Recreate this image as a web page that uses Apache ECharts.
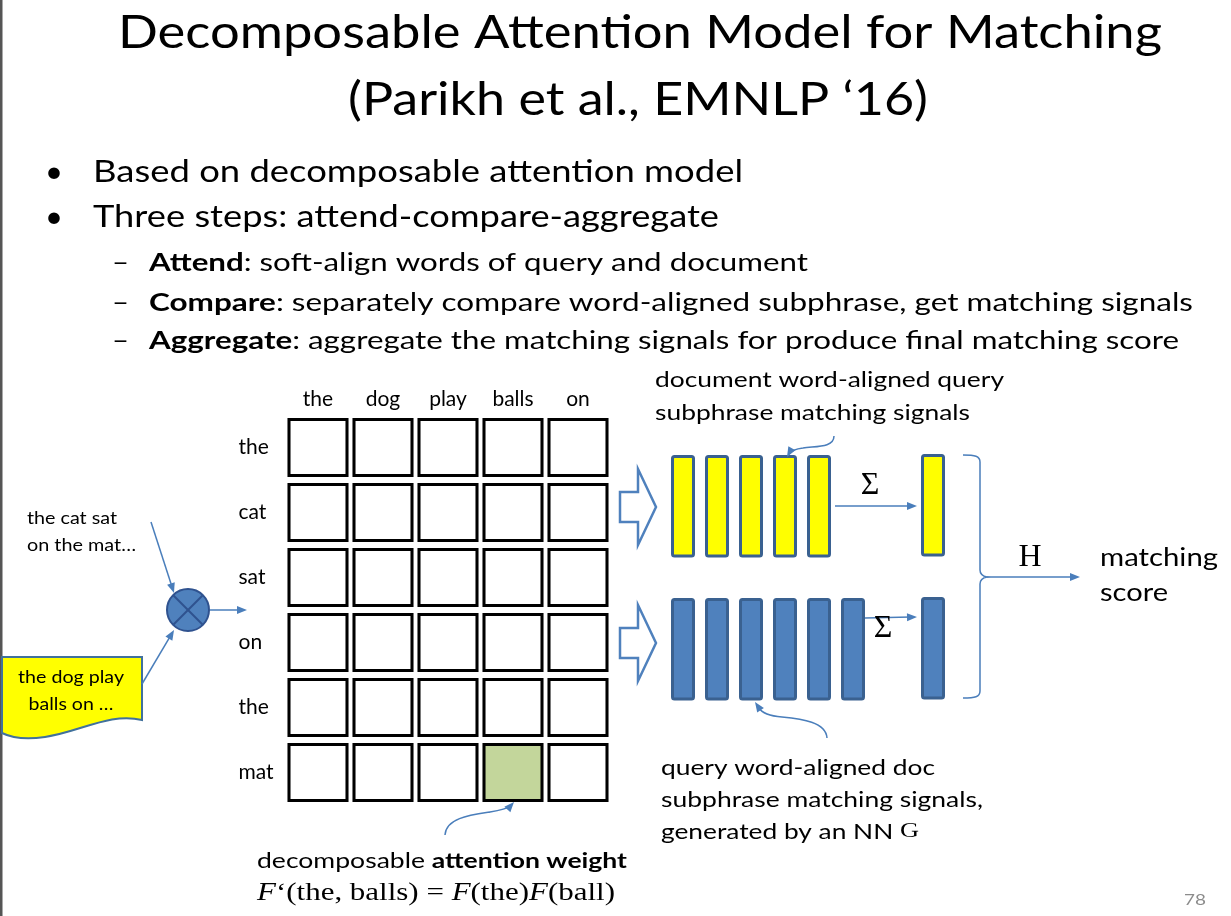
<!DOCTYPE html>
<html>
<head>
<meta charset="utf-8">
<script src="https://cdn.jsdelivr.net/npm/echarts@6/dist/echarts.min.js"></script>
<style>html,body{margin:0;padding:0;background:#fff;}#c{width:1231px;height:916px;}</style>
</head>
<body>
<div id="c"></div>
<script>
// ---------- data ----------
const docWords = ['the', 'dog', 'play', 'balls', 'on'];
const queryWords = ['the', 'cat', 'sat', 'on', 'the', 'mat'];
// attention weight highlight per [query row][doc column] (1 = highlighted cell)
const attention = [
  [0, 0, 0, 0, 0],
  [0, 0, 0, 0, 0],
  [0, 0, 0, 0, 0],
  [0, 0, 0, 0, 0],
  [0, 0, 0, 0, 0],
  [0, 0, 0, 1, 0]
];
const docAlignedSignals = [1, 1, 1, 1, 1];
const queryAlignedSignals = [1, 1, 1, 1, 1, 1];
const docSum = [1];
const querySum = [1];

// ---------- helpers ----------
const FAM = 'Lato';
const SERIF = 'Liberation Serif';
const mctx = document.createElement('canvas').getContext('2d');
function mw(t, st) {
  mctx.font = (st.fontStyle || 'normal') + ' ' + (st.fontWeight || 'normal') + ' ' + st.fontSize + 'px ' + st.fontFamily;
  return mctx.measureText(t).width;
}
function txt(segs, x, base, size, target, o) {
  o = o || {};
  const styles = {
    n: { fontFamily: FAM, fontSize: size, fontWeight: 'normal', fill: o.fill || '#000' },
    b: { fontFamily: FAM, fontSize: size, fontWeight: 'bold', fill: o.fill || '#000' },
    s: { fontFamily: SERIF, fontSize: size, fontWeight: 'normal', fill: o.fill || '#000' },
    i: { fontFamily: SERIF, fontSize: size, fontWeight: 'normal', fontStyle: 'italic', fill: o.fill || '#000' }
  };
  let w = 0, str = '';
  segs.forEach(function (sg) {
    w += mw(sg[0], styles[sg[1]]);
    str += '{' + sg[1] + '|' + sg[0] + '}';
  });
  const sx = target ? target / w : 1;
  const al = o.align || 'left';
  return {
    type: 'text', x: x, y: base - 0.387 * size, scaleX: sx, silent: true, z: 10,
    style: {
      text: str, rich: styles, fontFamily: FAM, fontSize: size, fill: o.fill || '#000',
      align: al, textAlign: al, verticalAlign: 'middle', textVerticalAlign: 'middle'
    }
  };
}
const BLUE = '#4a7ebb';
let pathCount = 0;
function pathEl(d, style, z) {
  const name = 'pth' + (pathCount++);
  echarts.graphic.registerShape(name, echarts.graphic.extendPath(d, {}));
  return { type: name, silent: true, z: z || 5, shape: {}, style: style };
}
function arrowHead(x1, y1, x2, y2, len, wid) {
  len = len || 10; wid = wid || 4;
  const a = Math.atan2(y2 - y1, x2 - x1);
  const bx = x2 - len * Math.cos(a), by = y2 - len * Math.sin(a);
  const px = -Math.sin(a) * wid, py = Math.cos(a) * wid;
  return { type: 'polygon', silent: true, z: 6, shape: { points: [[x2, y2], [bx + px, by + py], [bx - px, by - py]] }, style: { fill: BLUE } };
}
function arrow(x1, y1, x2, y2) {
  const a = Math.atan2(y2 - y1, x2 - x1);
  return [
    { type: 'line', silent: true, z: 5, shape: { x1: x1, y1: y1, x2: x2 - 6 * Math.cos(a), y2: y2 - 6 * Math.sin(a) }, style: { stroke: BLUE, lineWidth: 1.5 } },
    arrowHead(x1, y1, x2, y2)
  ];
}
function curveArrow(d, fx, fy, tx, ty) {
  return [
    pathEl(d, { stroke: BLUE, lineWidth: 1.5, fill: null }),
    arrowHead(fx, fy, tx, ty)
  ];
}
function hollowArrow(cy) {
  return { type: 'polygon', silent: true, z: 5,
    shape: { points: [[620, cy - 15], [638, cy - 15], [638, cy - 38], [656, cy], [638, cy + 38], [638, cy + 15], [620, cy + 15]] },
    style: { fill: '#fff', stroke: '#4f81bd', lineWidth: 2.5 } };
}

// ---------- graphics ----------
const g = [];
g.push({ type: 'rect', silent: true, shape: { x: 0, y: 0, width: 2.5, height: 916 }, style: { fill: '#555' } });
g.push(txt([['Decomposable Attention Model for Matching', 'n']], 118, 51, 46, 1044));
g.push(txt([['(Parikh et al., EMNLP \u201816)', 'n']], 348, 118, 46, 580));
g.push(txt([['\u2022', 'n']], 45, 184, 31));
g.push(txt([['Based on decomposable attention model', 'n']], 93, 184, 31, 650));
g.push(txt([['\u2022', 'n']], 45, 229, 31));
g.push(txt([['Three steps: attend-compare-aggregate', 'n']], 93, 229, 31, 626));
[[273, 'Attend', ': soft-align words of query and document', 659],
 [313, 'Compare', ': separately compare word-aligned subphrase, get matching signals', 1044],
 [351, 'Aggregate', ': aggregate the matching signals for produce final matching score', 1030]
].forEach(function (r) {
  g.push(txt([['\u2013', 'n']], 112, r[0], 25, 17));
  g.push(txt([[r[1], 'b'], [r[2], 'n']], 149, r[0], 25, r[3]));
});
// left inputs
g.push(txt([['the cat sat', 'n']], 27, 525, 16.5, 90));
g.push(txt([['on the mat\u2026', 'n']], 27, 552, 16.5, 109));
g.push(pathEl('M 2 657 L 142 657 L 142 720 C 110 712, 80 732, 45 737 C 25 740, 10 737, 2 733 Z',
  { fill: '#ffff00', stroke: '#41719c', lineWidth: 2 }, 4));
g.push(txt([['the dog play', 'n']], 71, 684, 17, 106, { align: 'center' }));
g.push(txt([['balls on \u2026', 'n']], 71, 711, 17, 85, { align: 'center' }));
arrow(151, 522, 174, 593).forEach(e => g.push(e));
arrow(142, 684, 174, 630).forEach(e => g.push(e));
arrow(210, 610, 247, 610).forEach(e => g.push(e));
g.push({ type: 'circle', silent: true, z: 6, shape: { cx: 188, cy: 610, r: 21 }, style: { fill: '#4f81bd', stroke: '#2f528f', lineWidth: 2 } });
g.push({ type: 'line', silent: true, z: 7, shape: { x1: 173.5, y1: 595.5, x2: 202.5, y2: 624.5 }, style: { stroke: '#2f528f', lineWidth: 2 } });
g.push({ type: 'line', silent: true, z: 7, shape: { x1: 202.5, y1: 595.5, x2: 173.5, y2: 624.5 }, style: { stroke: '#2f528f', lineWidth: 2 } });
// hollow arrows
g.push(hollowArrow(507));
g.push(hollowArrow(643));
// annotations right
g.push(txt([['document word-aligned query', 'n']], 655, 388, 21.5, 349));
g.push(txt([['subphrase matching signals', 'n']], 655, 421, 21.5, 315));
curveArrow('M 834 436 C 834 448, 815 446, 803 448 C 795 449, 791 451, 789 454', 792, 448, 787, 457).forEach(e => g.push(e));
arrow(835, 506, 917, 506).forEach(e => g.push(e));
arrow(865, 618, 917, 617).forEach(e => g.push(e));
g.push(txt([['\u03A3', 's']], 870, 498, 32, 0, { align: 'center' }));
g.push(txt([['\u03A3', 's']], 883, 641, 32, 0, { align: 'center' }));
g.push(pathEl('M 963 455 C 975 455, 980 456, 980 462 L 980 570 C 980 574, 982 576, 987 577 C 982 578, 980 580, 980 584 L 980 691 C 980 697, 975 698, 963 698',
  { stroke: BLUE, lineWidth: 1.5, fill: null }));
arrow(987, 577, 1080, 577).forEach(e => g.push(e));
g.push(txt([['H', 's']], 1030, 570, 32, 0, { align: 'center' }));
g.push(txt([['matching', 'n']], 1100, 568, 25, 118));
g.push(txt([['score', 'n']], 1100, 603, 25, 68));
// bottom annotations
curveArrow('M 827 738 C 826 722, 802 719, 782 717 C 770 716, 762 713, 759 708', 761, 711, 755, 702).forEach(e => g.push(e));
g.push(txt([['query word-aligned doc', 'n']], 661, 776, 21.5, 274));
g.push(txt([['subphrase matching signals,', 'n']], 661, 808, 21.5, 322));
g.push(txt([['generated by an NN ', 'n'], ['G', 's']], 661, 840, 21.5, 258));
curveArrow('M 445 835 C 446 818, 470 815, 490 812 C 502 810, 508 808, 511 806', 506, 811, 514, 802).forEach(e => g.push(e));
g.push(txt([['decomposable ', 'n'], ['attention weight', 'b']], 257, 869, 21.5, 370));
g.push(txt([['F', 'i'], ['\u2018(the, balls) = ', 's'], ['F', 'i'], ['(the)', 's'], ['F', 'i'], ['(ball)', 's']], 257, 903, 25, 358));
g.push(txt([['78', 'n']], 1184, 906, 16, 22, { fill: '#8c8c8c' }));

// ---------- series data ----------
const cellData = [];
attention.forEach(function (row, r) {
  row.forEach(function (v, c) { cellData.push([c, r, v]); });
});

const hidCat = function (idx, data) {
  return { type: 'category', gridIndex: idx, data: data, show: false };
};
const hidVal = function (idx) {
  return { type: 'value', gridIndex: idx, min: 0, max: 1, show: false, splitLine: { show: false } };
};
const barStyle = function (fill) {
  return { color: fill, borderColor: '#3a6190', borderWidth: 3, borderRadius: 2 };
};

const option = {
  animation: false,
  backgroundColor: '#fff',
  grid: [
    { left: 285.5, top: 415, width: 325, height: 390 },
    { left: 666, top: 455, width: 170, height: 102.5 },
    { left: 666, top: 598, width: 204, height: 102.5 },
    { left: 916, top: 454, width: 34, height: 102.5 },
    { left: 916, top: 597, width: 34, height: 102.5 }
  ],
  xAxis: [
    { type: 'category', gridIndex: 0, data: docWords, position: 'top',
      axisLine: { show: false }, axisTick: { show: false }, splitLine: { show: false },
      axisLabel: { fontFamily: FAM, fontSize: 21, color: '#000', margin: 5 } },
    hidCat(1, docWords), hidCat(2, queryWords), hidCat(3, ['sum']), hidCat(4, ['sum'])
  ],
  yAxis: [
    { type: 'category', gridIndex: 0, data: queryWords, inverse: true,
      axisLine: { show: false }, axisTick: { show: false }, splitLine: { show: false },
      axisLabel: { fontFamily: FAM, fontSize: 21, color: '#000', align: 'left', margin: 47 } },
    hidVal(1), hidVal(2), hidVal(3), hidVal(4)
  ],
  series: [
    { type: 'scatter', xAxisIndex: 0, yAxisIndex: 0, data: cellData, symbol: 'rect', symbolSize: [58, 56], silent: true,
      itemStyle: { color: function (p) { return p.value[2] > 0 ? '#c3d69b' : '#ffffff'; }, borderColor: '#000', borderWidth: 3, opacity: 1 } },
    { type: 'bar', xAxisIndex: 1, yAxisIndex: 1, data: docAlignedSignals, barWidth: 24, silent: true, itemStyle: barStyle('#ffff00') },
    { type: 'bar', xAxisIndex: 2, yAxisIndex: 2, data: queryAlignedSignals, barWidth: 24, silent: true, itemStyle: barStyle('#4f81bd') },
    { type: 'bar', xAxisIndex: 3, yAxisIndex: 3, data: docSum, barWidth: 24, silent: true, itemStyle: barStyle('#ffff00') },
    { type: 'bar', xAxisIndex: 4, yAxisIndex: 4, data: querySum, barWidth: 24, silent: true, itemStyle: barStyle('#4f81bd') }
  ],
  graphic: { elements: g }
};
const chart = echarts.init(document.getElementById('c'), null, { renderer: 'canvas' });
chart.setOption(option);
</script>
</body>
</html>
